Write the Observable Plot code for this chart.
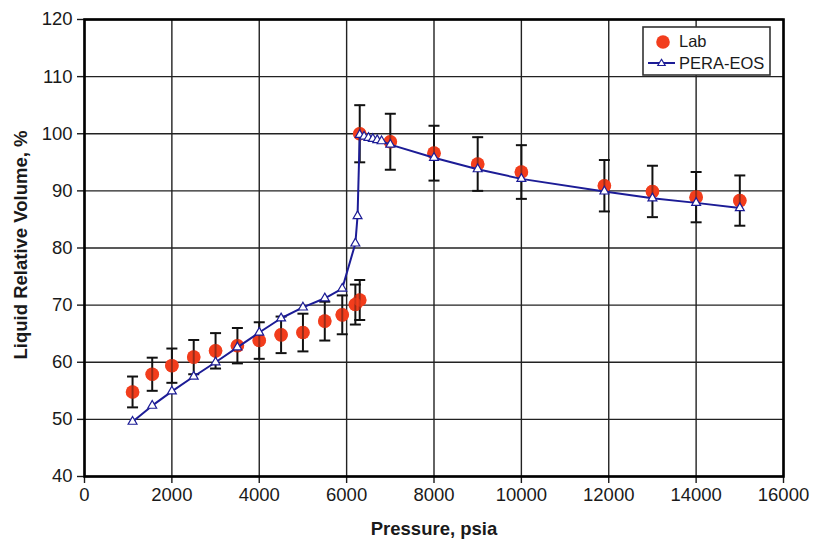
<!DOCTYPE html>
<html><head><meta charset="utf-8">
<script src="https://cdn.jsdelivr.net/npm/d3@7"></script>
<script src="https://cdn.jsdelivr.net/npm/@observablehq/plot@0.6"></script>
<style>
body{margin:0;background:#fff;}
#wrap{position:relative;width:814px;height:547px;font-family:"Liberation Sans",Arial,sans-serif;}
#legend{position:absolute;left:642px;top:26px;}
</style>
</head><body>
<div id="wrap"></div>
<script>
// Lab measurements (pressure psia, liquid relative volume %, error bar half-width)
const labPressure = [1100,1550,2000,2500,3000,3500,4000,4500,5000,5500,5900,6200,6300,6300,7000,8000,9000,10000,11900,13000,14000,15000];
const labVolume   = [54.8,57.9,59.4,60.9,62.0,62.9,63.8,64.8,65.2,67.2,68.3,70.1,70.9,100.0,98.6,96.6,94.7,93.3,90.9,89.9,88.9,88.3];
const labError    = [2.7,2.9,3.0,3.0,3.1,3.1,3.2,3.2,3.3,3.4,3.4,3.5,3.5,5.0,4.9,4.8,4.7,4.7,4.5,4.5,4.4,4.4];
// PERA-EOS model
const eosPressure = [1100,1550,2000,2500,3000,3500,4000,4500,5000,5500,5900,6200,6250,6300,6400,6500,6600,6700,6800,7000,8000,9000,10000,11900,13000,14000,15000];
const eosVolume   = [49.6,52.4,54.9,57.5,60.0,62.6,65.2,67.7,69.6,71.2,72.9,80.8,85.6,99.8,99.5,99.3,99.1,98.9,98.7,98.1,95.8,93.8,92.1,89.9,88.7,87.9,87.0];
// Axis ticks and titles
const xTicks = [0,2000,4000,6000,8000,10000,12000,14000,16000];
const yTicks = [40,50,60,70,80,90,100,110,120];
const xTitle = "Pressure, psia";
const yTitle = "Liquid Relative Volume, %";
const seriesNames = ["Lab","PERA-EOS"];

const lab = labPressure.map((p,i)=>({p, v:labVolume[i], lo:labVolume[i]-labError[i], hi:labVolume[i]+labError[i]}));
const eos = eosPressure.map((p,i)=>({p, v:eosVolume[i]}));
const cap = {draw(ctx){ ctx.moveTo(-5.5,0); ctx.lineTo(5.5,0); }};
const blue = "#1c1c96", red = "#f23d1d";

const chart = Plot.plot({
  width:814, height:547, marginLeft:84, marginRight:31, marginTop:19, marginBottom:71,
  style:{fontFamily:"'Liberation Sans', Arial, sans-serif", fontSize:"18.5px", color:"#1a1a1a", background:"#fff"},
  x:{domain:[0,16000]},
  y:{domain:[40,120]},
  marks:[
    Plot.gridX(xTicks,{stroke:"#222", strokeOpacity:1, strokeWidth:1.4}),
    Plot.gridY(yTicks,{stroke:"#222", strokeOpacity:1, strokeWidth:1.4}),
    Plot.axisX(xTicks,{tickSize:7, tickPadding:4, tickFormat:d3.format("d"), label:null, strokeWidth:1.4}),
    Plot.axisY(yTicks,{tickSize:7, tickPadding:5, label:null, strokeWidth:1.4}),
    Plot.text([xTitle],{text:d=>d, frameAnchor:"bottom", textAnchor:"middle", dy:58, fontWeight:"bold", fontSize:18.5, fill:"#1a1a1a"}),
    Plot.text([yTitle],{text:d=>d, frameAnchor:"left", textAnchor:"middle", dx:-63, dy:-3, rotate:-90, fontWeight:"bold", fontSize:18.5, fill:"#1a1a1a"}),
    Plot.dot(lab,{x:"p", y:"v", r:6.8, fill:red, stroke:"none"}),
    Plot.ruleX(lab,{x:"p", y1:"lo", y2:"hi", stroke:"#111", strokeWidth:2}),
    Plot.dot(lab,{x:"p", y:"lo", symbol:cap, fill:"none", stroke:"#111", strokeWidth:2}),
    Plot.dot(lab,{x:"p", y:"hi", symbol:cap, fill:"none", stroke:"#111", strokeWidth:2}),
    Plot.dot(lab,{x:"p", y:"v", r:6.8, fill:red, fillOpacity:0.6, stroke:"none"}),
    Plot.line(eos,{x:"p", y:"v", stroke:blue, strokeWidth:2}),
    Plot.dot(eos,{x:"p", y:"v", symbol:"triangle", r:3.3, fill:"#fff", stroke:blue, strokeWidth:1.2}),
    Plot.frame({stroke:"#000", strokeWidth:2.6})
  ]
});
const wrap = document.getElementById("wrap");
wrap.appendChild(chart);
const legend = document.createElementNS("http://www.w3.org/2000/svg","svg");
legend.id = "legend";
legend.setAttribute("width","130");
legend.setAttribute("height","52");
legend.innerHTML = `
  <rect x="1" y="1" width="127" height="48" fill="#fff" stroke="#333" stroke-width="1.6"/>
  <circle cx="21" cy="16" r="6.8" fill="${red}"/>
  <line x1="6" x2="33" y1="37" y2="37" stroke="${blue}" stroke-width="2"/>
  <path d="M19.5,33.3 L23.2,39.5 L15.8,39.5 Z" fill="#fff" stroke="${blue}" stroke-width="1.2"/>
  <text x="37" y="20.7" font-family="'Liberation Sans', Arial, sans-serif" font-size="16.5" fill="#1a1a1a">${seriesNames[0]}</text>
  <text x="37" y="43.3" font-family="'Liberation Sans', Arial, sans-serif" font-size="16.5" fill="#1a1a1a">${seriesNames[1]}</text>`;
wrap.appendChild(legend);
</script>
</body></html>
